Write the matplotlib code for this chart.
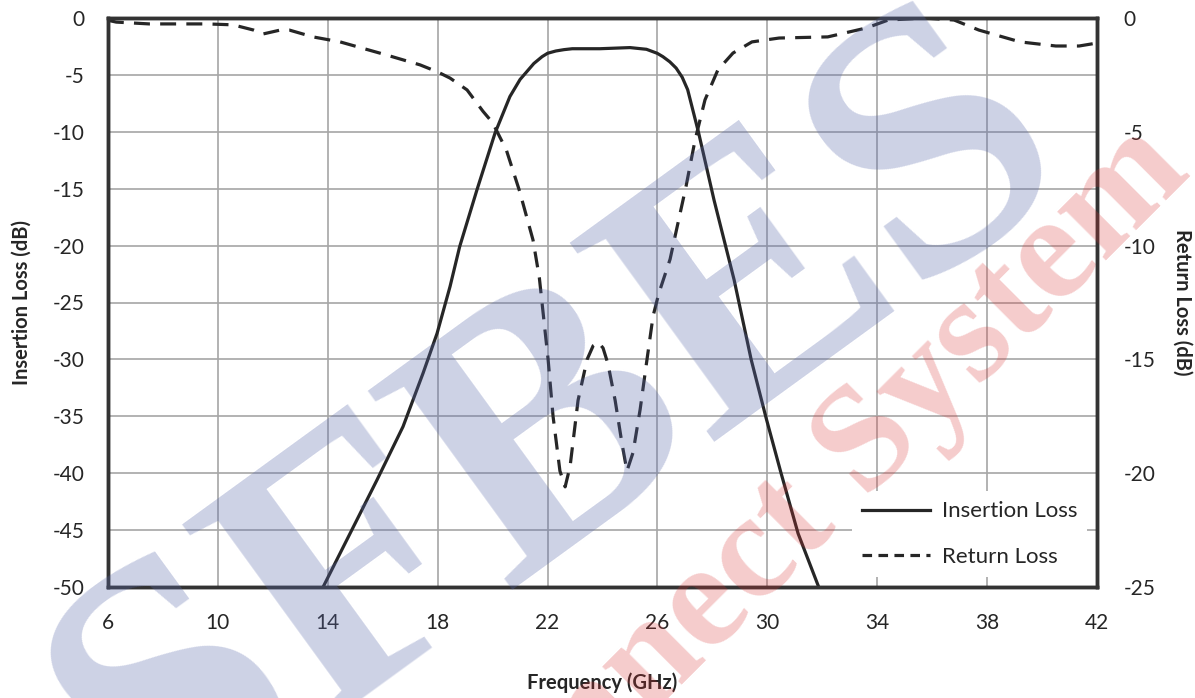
import numpy as np
import matplotlib
matplotlib.use("Agg")
import matplotlib.pyplot as plt
from matplotlib.lines import Line2D

plt.rcParams['font.family'] = ['Lato', 'DejaVu Sans']
plt.rcParams['axes.unicode_minus'] = False

# Insertion loss (left axis, dB)
freq_il = [13.83, 14.81, 15.79, 16.74, 17.47, 17.98, 18.45, 18.8, 19.43, 20.09,
           20.63, 21.0, 21.25, 21.5, 21.8, 22.0, 22.3, 22.6, 22.9, 23.9,
           25.0, 25.6, 25.99, 26.2, 26.45, 26.68, 26.9, 27.1, 27.5, 28.06,
           28.79, 29.41, 29.95, 30.5, 31.12, 31.87]
il = [-50, -45.3, -40.6, -35.9, -31.2, -27.7, -23.6, -20.1, -15.1, -10.1,
      -6.9, -5.4, -4.7, -4.0, -3.4, -3.1, -2.9, -2.78, -2.7, -2.7,
      -2.6, -2.75, -3.1, -3.4, -3.85, -4.4, -5.2, -6.3, -10.1, -16.0,
      -23.0, -30.0, -35.1, -40.0, -45.3, -50]

# Return loss (right axis, dB)
freq_rl = [6.0, 6.3, 7.5, 9.6, 10.55, 11.3, 11.65, 12.27, 12.6, 13.46,
           14.45, 16.15, 17.36, 18.0, 18.45, 19.07, 19.65, 20.0, 20.5, 20.98,
           21.47, 21.7, 22.02, 22.2, 22.45, 22.64, 22.82, 23.11, 23.44, 23.66,
           23.85, 24.02, 24.2, 24.46, 24.71, 24.89, 25.11, 25.37, 25.62, 25.84,
           26.05, 26.46, 26.64, 27.04, 27.37, 27.73, 28.2, 28.75, 29.44, 30.43,
           32.2, 33.6, 34.4, 35.7, 36.8, 37.7, 39.2, 40.5, 41.35, 42.0]
rl = [-0.1, -0.18, -0.26, -0.26, -0.3, -0.53, -0.7, -0.53, -0.53, -0.83,
      -1.05, -1.63, -2.06, -2.37, -2.64, -3.16, -4.1, -4.6, -5.8, -7.6,
      -9.75, -11.4, -15.0, -17.5, -19.9, -20.6, -19.7, -16.8, -15.0, -14.4,
      -14.25, -14.5, -15.2, -16.8, -18.7, -19.9, -19.1, -17.2, -15.0, -13.1,
      -12.1, -10.6, -9.6, -7.4, -5.36, -3.6, -2.28, -1.54, -1.05, -0.88,
      -0.83, -0.44, -0.09, 0.0, -0.09, -0.53, -1.05, -1.23, -1.23, -1.1]

x_ticks = list(range(6, 43, 4))
il_ticks = list(range(-50, 1, 5))
rl_ticks = list(range(-25, 1, 5))

line_col = '#262626'
text_col = '#262626'

fig = plt.figure(figsize=(11.95, 6.98), dpi=100)
fig.subplots_adjust(left=108/1195, right=1097/1195, top=1-18/698, bottom=1-587/698)
ax = fig.add_subplot(111)
ax2 = ax.twinx()

ax.plot(freq_il, il, color=line_col, lw=2.3, solid_joinstyle='round')
ax2.plot(freq_rl, rl, color=line_col, lw=2.3, dashes=(5, 3.2))

ax.set_xlim(6, 42)
ax.set_ylim(-50, 0)
ax2.set_ylim(-25, 0)
ax.set_xticks(x_ticks)
ax.set_yticks(il_ticks)
ax2.set_yticks(rl_ticks)
ax.grid(True, color='#a6a6a6', lw=1.2)
ax.set_axisbelow(True)

ax.tick_params(length=0, labelsize=15, colors=text_col)
ax.tick_params(axis='y', pad=17)
ax.tick_params(axis='x', pad=19)
ax2.tick_params(length=0, labelsize=15, colors=text_col, pad=19)

for a in (ax, ax2):
    for s in a.spines.values():
        s.set_color('#333333')
        s.set_linewidth(2.5)

ax.set_xlabel('Frequency (GHz)', fontsize=14.5, fontweight='bold', color=line_col,
              va='center')
ax.set_ylabel('Insertion Loss (dB)', fontsize=14.5, fontweight='bold', color=line_col,
              va='center')
ax2.set_ylabel('Return Loss (dB)', fontsize=14.5, fontweight='bold', color=line_col,
               rotation=-90, va='center')
ax.xaxis.set_label_coords(0.5, -0.169)
ax.yaxis.set_label_coords(-0.087, 0.5)
ax2.yaxis.set_label_coords(1.086, 0.5)

handles = [Line2D([], [], color=line_col, lw=2.3),
           Line2D([], [], color=line_col, lw=2.3, dashes=(3, 2))]
leg = ax2.legend(handles, ['Insertion Loss', 'Return Loss'], loc='lower right',
                 fontsize=16, frameon=True, fancybox=False, handlelength=3.1,
                 handletextpad=0.5, labelspacing=1.15, borderaxespad=0.45,
                 borderpad=0.45)
leg.get_frame().set_edgecolor('none')
leg.get_frame().set_facecolor('white')
leg.get_frame().set_alpha(1)
for t in leg.get_texts():
    t.set_color(text_col)

# watermark
fig.text(560/1195, 1-428/698, 'SFBES', rotation=36, fontsize=270,
         family='Liberation Serif', fontweight='bold', color=(0.35, 0.41, 0.67),
         alpha=0.3, ha='center', va='center', zorder=10)
fig.text(800/1195, 1-515/698, 'Connect System', rotation=45, fontsize=109,
         family='Liberation Serif', fontweight='bold', color=(0.85, 0.2, 0.2),
         alpha=0.25, ha='center', va='center', zorder=11)

fig.savefig('out.png', dpi=100)
